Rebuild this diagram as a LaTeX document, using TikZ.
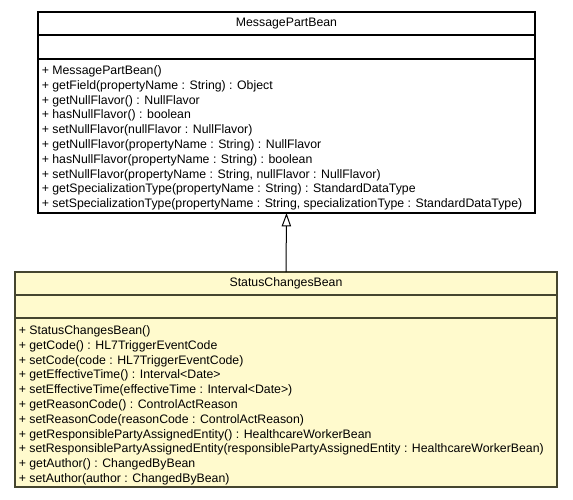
\documentclass[tikz,border=0pt]{standalone}
\usepackage{fontspec}
\setmainfont{Liberation Sans}
\usetikzlibrary{arrows.meta}
\definecolor{beanfill}{HTML}{FFFACD}
\definecolor{beanline}{HTML}{45452F}
\begin{document}
\begin{tikzpicture}[x=1pt,y=-1pt,
  compartment/.style={draw, rectangle, inner sep=0pt, outer sep=0pt, anchor=north west, line width=1.2pt,
    font=\fontsize{12.3}{14.8}\selectfont},
  supbox/.style={compartment, draw=black, fill=white, minimum width=497pt},
  subbox/.style={compartment, draw=beanline, fill=beanfill, minimum width=542pt},
  member/.style={anchor=base west, inner sep=0pt, outer sep=0pt, font=\fontsize{12.3}{14.8}\selectfont},
  generalization/.style={-{Triangle[open, length=13.4pt, width=9.4pt]}, line width=1pt, draw=black}]
\useasboundingbox (0,0) rectangle (573,499);

% superclass
\node[supbox, minimum height=23pt] (supT) at (38,12) {MessagePartBean};
\node[supbox, minimum height=24pt] (supA) at (38,35) {};
\node[supbox, minimum height=154pt] (supM) at (38,59) {};
\foreach \t [count=\i] in {
  {+ MessagePartBean()},
  {+ getField(propertyName : String) : Object},
  {+ getNullFlavor() : NullFlavor},
  {+ hasNullFlavor() : boolean},
  {+ setNullFlavor(nullFlavor : NullFlavor)},
  {+ getNullFlavor(propertyName : String) : NullFlavor},
  {+ hasNullFlavor(propertyName : String) : boolean},
  {+ setNullFlavor(propertyName : String, nullFlavor : NullFlavor)},
  {+ getSpecializationType(propertyName : String) : StandardDataType},
  {+ setSpecializationType(propertyName : String, specializationType : StandardDataType)}}
  \node[member] (sup\i) at (41.8, {74.4+(\i-1)*14.8}) {\t};

% subclass
\node[subbox, minimum height=23pt] (subT) at (15,272) {StatusChangesBean};
\node[subbox, minimum height=23pt] (subA) at (15,295) {};
\node[subbox, minimum height=169pt] (subM) at (15,318) {};
\foreach \t [count=\i] in {
  {+ StatusChangesBean()},
  {+ getCode() : HL7TriggerEventCode},
  {+ setCode(code : HL7TriggerEventCode)},
  {+ getEffectiveTime() : Interval<Date>},
  {+ setEffectiveTime(effectiveTime : Interval<Date>)},
  {+ getReasonCode() : ControlActReason},
  {+ setReasonCode(reasonCode : ControlActReason)},
  {+ getResponsiblePartyAssignedEntity() : HealthcareWorkerBean},
  {+ setResponsiblePartyAssignedEntity(responsiblePartyAssignedEntity : HealthcareWorkerBean)},
  {+ getAuthor() : ChangedByBean},
  {+ setAuthor(author : ChangedByBean)}}
  \node[member] (sub\i) at (18.8, {334.4+(\i-1)*14.8}) {\t};

% generalization
\draw[generalization] (subT.north) -- (supM.south);
\end{tikzpicture}
\end{document}
